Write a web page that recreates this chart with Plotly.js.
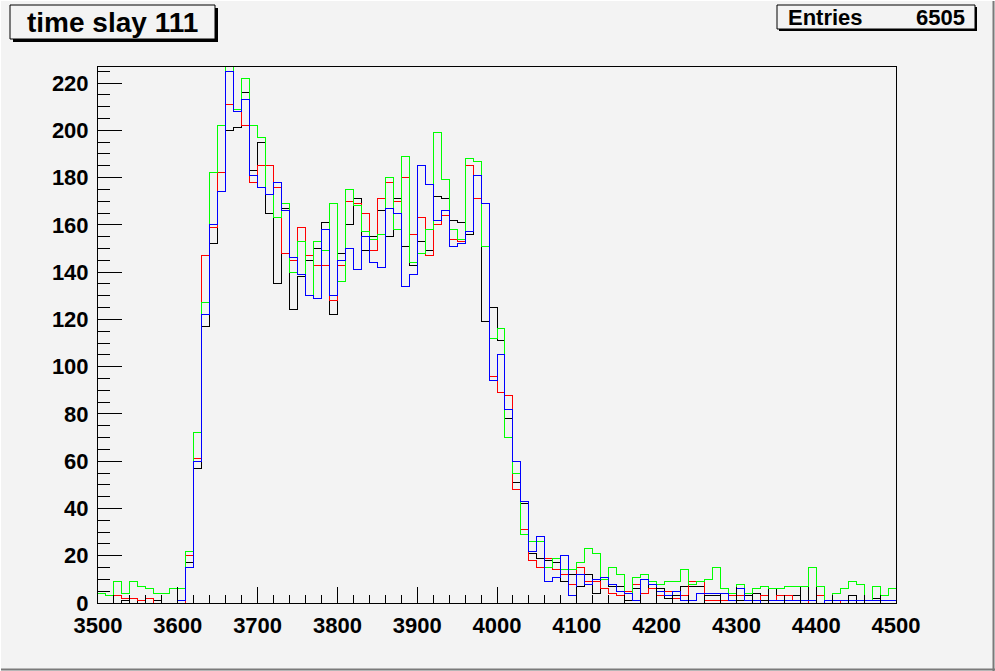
<!DOCTYPE html>
<html>
<head>
<meta charset="utf-8">
<script src="https://cdn.plot.ly/plotly-3.0.1.min.js"></script>
<style>
  html, body { margin: 0; padding: 0; background: #f3f3f3; }
  #chart { width: 995px; height: 671px; }
  #chart .scatterlayer path { shape-rendering: crispEdges; }
  #chart .xtick, #chart .ytick { shape-rendering: crispEdges; }
</style>
</head>
<body>
<div id="chart"></div>
<script>
// ---- data: histogram "time slay 111", 100 bins from 3500 to 4500 ----
const binStart = 3500;
const binWidth = 10;
const titleText = "time slay 111";
const statsLabel = "Entries";
const statsValue = "6505";

const greenCounts = [
  4,3,9,4,9,7,6,4,4,6,6,22,72,
  127,182,202,232,209,222,202,
  197,173,163,169,140,153,130,153,149,169,
  136,175,168,157,154,156,180,158,189,144,
  148,158,199,179,158,154,188,187,151,112,
  116,70,55,29,26,26,15,19,14,14,
  17,23,21,10,15,12,4,11,12,9,
  8,9,9,14,8,9,10,15,6,4,
  8,4,6,7,6,6,7,7,7,15,
  7,1,4,6,9,8,1,7,3,6
];
const redCounts = [
  0,0,3,2,2,1,2,0,0,0,0,20,61,
  147,159,182,211,209,202,178,
  185,185,176,148,145,159,147,143,143,128,
  143,170,169,165,149,171,178,170,180,156,
  163,147,160,164,154,153,185,171,169,96,
  89,88,48,31,18,15,19,14,12,8,
  15,9,9,6,4,3,5,8,4,6,
  3,5,2,3,9,9,1,1,1,3,
  3,1,1,3,1,3,3,1,0,1,
  3,0,0,1,1,1,1,1,1,1
];
const blueCounts = [
  0,0,0,0,0,0,0,0,0,0,1,15,60,
  122,160,174,225,208,213,181,
  176,173,178,166,146,139,130,129,158,130,
  145,150,141,155,144,142,167,165,134,139,
  185,177,162,166,151,152,157,181,169,94,
  105,82,60,43,22,28,9,11,20,3,
  12,8,10,11,8,5,4,1,10,8,
  5,3,5,1,1,4,4,4,4,1,
  6,1,1,0,1,1,1,1,1,1,
  0,1,1,1,1,1,1,1,1,1
];
const blackCounts = [
  0,0,0,1,0,1,0,1,0,0,0,17,57,
  117,152,182,200,201,216,183,
  195,165,135,167,124,138,145,150,161,122,
  148,160,171,149,155,166,155,171,151,143,
  153,149,172,171,162,161,156,181,119,125,
  111,78,51,42,21,19,18,17,9,12,
  7,12,4,10,7,7,1,6,4,8,
  6,2,3,7,7,7,3,3,4,4,
  1,3,4,1,6,3,3,3,7,0,
  7,1,1,1,3,0,1,2,1,1
];
const grayCounts = new Array(100).fill(0);

// ---- drawing ----
const W = 995, H = 671;
const L = 98, R = 896, T = 67, B = 603;
const BG = '#f3f3f3';
const FONT = 'Liberation Sans, Arial, Helvetica, sans-serif';

function stepTrace(counts, color, name) {
  const xs = [], ys = [];
  for (let i = 0; i <= counts.length; i++) {
    xs.push(binStart + i * binWidth);
    ys.push(counts[Math.min(i, counts.length - 1)]);
  }
  return {
    type: 'scatter', mode: 'lines', name: name, x: xs, y: ys,
    line: { shape: 'hv', color: color, width: 1 },
    hoverinfo: 'skip', showlegend: false
  };
}

const traces = [
  stepTrace(grayCounts, '#b4b4b4', 'gray'),
  stepTrace(blackCounts, '#000000', 'black'),
  stepTrace(redCounts, '#ff0000', 'red'),
  stepTrace(greenCounts, '#00ff00', 'green'),
  stepTrace(blueCounts, '#0000ff', 'blue')
];

const maxBlack = Math.max(...blackCounts);

function px(x) { return (x - L) / (R - L); }
function py(y) { return (B - y) / (B - T); }

function boxShapes(x0, y0, x1, y1, sh) {
  return [
    { type: 'rect', xref: 'paper', yref: 'paper', x0: px(x0 + sh), x1: px(x1 + sh), y0: py(y1 + sh), y1: py(y0 + sh),
      fillcolor: '#000000', line: { width: 0 }, layer: 'above' },
    { type: 'rect', xref: 'paper', yref: 'paper', x0: px(x0), x1: px(x1), y0: py(y1), y1: py(y0),
      fillcolor: BG, line: { width: 1, color: '#000000' }, layer: 'above' }
  ];
}

const shapes = [].concat(
  boxShapes(10, 5, 215, 39, 3),
  boxShapes(777, 5, 975, 29, 2),
  [
    { type: 'line', xref: 'paper', yref: 'paper', x0: px(993.5), x1: px(993.5), y0: py(0), y1: py(671),
      line: { color: '#7a7a7a', width: 2 }, layer: 'above' },
    { type: 'line', xref: 'paper', yref: 'paper', x0: px(0), x1: px(995), y0: py(669.5), y1: py(669.5),
      line: { color: '#7a7a7a', width: 2 }, layer: 'above' },
    { type: 'line', xref: 'paper', yref: 'paper', x0: px(0.5), x1: px(0.5), y0: py(0), y1: py(671),
      line: { color: '#ffffff', width: 1 }, layer: 'above' },
    { type: 'line', xref: 'paper', yref: 'paper', x0: px(0), x1: px(995), y0: py(0.5), y1: py(0.5),
      line: { color: '#ffffff', width: 1 }, layer: 'above' }
  ]
);

const annotations = [
  { xref: 'paper', yref: 'paper', x: px(112.5), y: py(22), xanchor: 'center', yanchor: 'middle',
    text: titleText, showarrow: false,
    font: { family: FONT, size: 28, color: '#000000', weight: 'bold' } },
  { xref: 'paper', yref: 'paper', x: px(786), y: py(17.5), xanchor: 'left', yanchor: 'middle',
    text: statsLabel, showarrow: false,
    font: { family: FONT, size: 22, color: '#000000', weight: 'bold' } },
  { xref: 'paper', yref: 'paper', x: px(967), y: py(17.5), xanchor: 'right', yanchor: 'middle',
    text: statsValue, showarrow: false,
    font: { family: FONT, size: 22, color: '#000000', weight: 'bold' } }
];

const tickFont = { family: FONT, size: 22, color: '#000000', weight: 'bold' };

const layout = {
  width: W, height: H,
  margin: { l: L, r: W - R, t: T, b: H - B, pad: 0 },
  paper_bgcolor: BG, plot_bgcolor: BG,
  showlegend: false,
  xaxis: {
    range: [binStart, binStart + binWidth * blackCounts.length],
    tick0: 3500, dtick: 100,
    ticks: 'inside', ticklen: 16, tickwidth: 1, tickcolor: '#000000',
    minor: { dtick: 20, ticks: 'inside', ticklen: 8, tickwidth: 1, tickcolor: '#000000', showgrid: false },
    showline: true, linecolor: '#000000', linewidth: 1, mirror: true,
    showgrid: false, zeroline: false,
    tickfont: tickFont, ticklabelstandoff: 3
  },
  yaxis: {
    range: [0, maxBlack * 1.05],
    tick0: 0, dtick: 20,
    ticks: 'inside', ticklen: 24, tickwidth: 1, tickcolor: '#000000',
    minor: { dtick: 5, ticks: 'inside', ticklen: 12, tickwidth: 1, tickcolor: '#000000', showgrid: false },
    showline: true, linecolor: '#000000', linewidth: 1, mirror: true,
    showgrid: false, zeroline: false,
    tickfont: tickFont, ticklabelstandoff: 4
  },
  shapes: shapes,
  annotations: annotations
};

Plotly.newPlot('chart', traces, layout, { staticPlot: true, displayModeBar: false });
</script>
</body>
</html>
